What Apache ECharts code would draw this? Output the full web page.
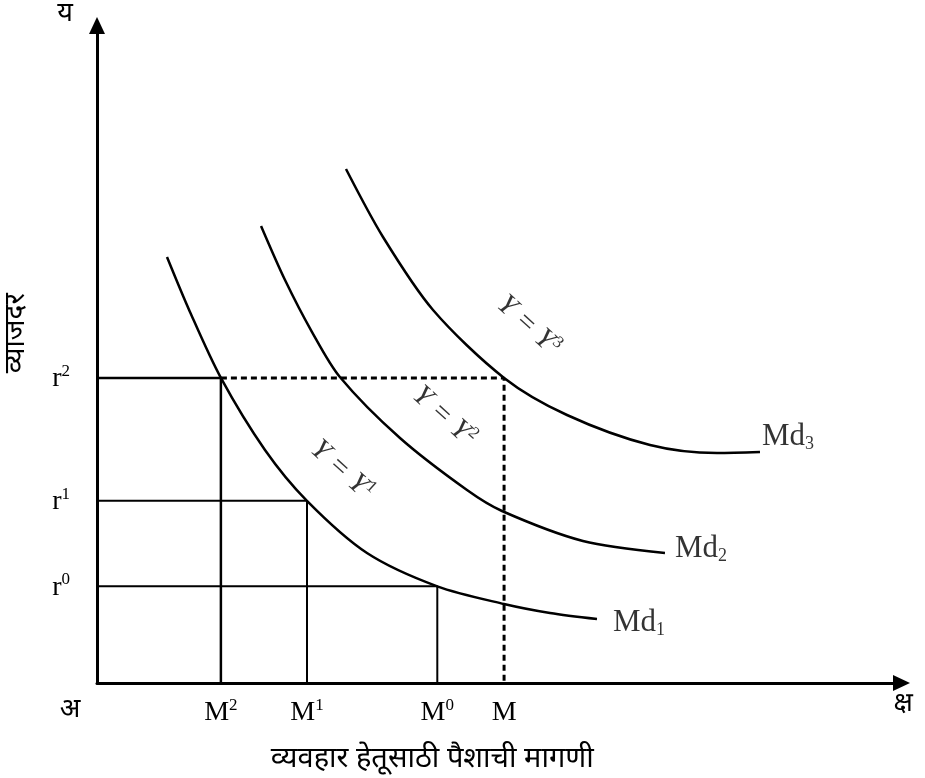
<!DOCTYPE html>
<html>
<head>
<meta charset="utf-8">
<script src="https://cdn.jsdelivr.net/npm/echarts@6/dist/echarts.min.js"></script>
<style>html,body{margin:0;padding:0;background:#fff}#c{width:925px;height:778px}</style>
</head>
<body>
<div id="c"></div>
<script>
// ---- data (axis units 0..100) ----
const xTickValues = [15.4, 26.1, 42.3, 50.6];
const xTickBase = ['M', 'M', 'M', 'M'];
const xTickSup = ['2', '1', '0', ''];
const yTickValues = [14.7, 27.7, 46.4];
const yTickBase = ['r', 'r', 'r'];
const yTickSup = ['0', '1', '2'];

const md1 = [[8.70,64.79],[11.56,56.43],[15.4,46.4],[20.88,35.44],[26.1,27.7],[33.56,19.77],[42.3,14.7],[50.59,12.02],[56.31,10.65],[62.15,9.73]];
const md2 = [[20.39,69.51],[23.37,61.29],[26.73,53.38],[30.19,46.54],[37.66,37.26],[45.99,29.35],[50.34,26.16],[60.40,21.60],[70.60,19.77]];
const md3 = [[30.95,78.17],[35.55,67.83],[41.77,56.73],[50.6,46.4],[58.42,40.76],[68.74,36.20],[77.07,34.98],[82.41,35.13]];
const curveNames = ['Md', 'Md', 'Md'];
const curveSubs = ['1', '2', '3'];

const incomeLabelAnchor = [[30.5,32.4],[43.2,40.6],[53.7,54.4]];
const incomeLabelSup = ['1', '2', '3'];

const xAxisTitle = 'व्यवहार हेतूसाठी पैशाची मागणी';
const yAxisTitle = 'व्याजदर';
const xEndName = 'क्ष';
const yEndName = 'य';
const originName = 'अ';

// ---- styles ----
const SERIF = "'Liberation Serif','Times New Roman',serif";
const DEVA = "'Noto Sans Devanagari','Lohit Devanagari','Noto Sans',sans-serif";
const mdLabelDistance = [16, 10, 2];
const mdLabelOffsetY = [4, -4, -15];

function near(a, b) { return Math.abs(a - b) < 1e-6; }

const tickRich = {
  b: {fontFamily: SERIF, fontSize: 28, color: '#000', lineHeight: 30, verticalAlign: 'bottom'},
  p: {fontFamily: SERIF, fontSize: 17, color: '#000', lineHeight: 17, verticalAlign: 'top'},
  o: {fontFamily: DEVA, fontSize: 27, color: '#000', padding: [1, 54, 0, 0]}
};

const curves = [md1, md2, md3];
const series = [];

// guide lines (solid corners)
for (let i = 0; i < 3; i++) {
  const x = xTickValues[i], y = yTickValues[2 - i];
  series.push({
    type: 'line', silent: true, symbol: 'none', animation: false,
    data: [[0, y], [x, y], [x, 0]],
    lineStyle: {color: '#000', width: i === 0 ? 2.5 : 2}
  });
}
// dashed guide
series.push({
  type: 'line', silent: true, symbol: 'none',
  data: [[xTickValues[0], yTickValues[2]], [xTickValues[3], yTickValues[2]], [xTickValues[3], 0]],
  lineStyle: {color: '#000', width: 3, type: [6, 4]}
});
// demand curves
curves.forEach(function (c, i) {
  series.push({
    type: 'line', name: curveNames[i] + curveSubs[i], data: c, smooth: 0.3,
    symbol: 'none', silent: true,
    lineStyle: {color: '#000', width: 2.5}
  });
});
// Md labels
series.push({
  type: 'scatter', symbolSize: 0, silent: true,
  data: curves.map(function (c, i) {
    return {
      value: c[c.length - 1],
      label: {formatter: '{m|' + curveNames[i] + '}{s|' + curveSubs[i] + '}', distance: mdLabelDistance[i], offset: [0, mdLabelOffsetY[i]]}
    };
  }),
  label: {
    show: true, position: 'right',
    rich: {
      m: {fontFamily: SERIF, fontSize: 31, color: '#000', lineHeight: 32, verticalAlign: 'top'},
      s: {fontFamily: SERIF, fontSize: 18, color: '#000', lineHeight: 18, padding: [13, 0, 0, 0], verticalAlign: 'bottom'}
    }
  }
});
// Y = Y^n labels
series.push({
  type: 'scatter', symbolSize: 0, silent: true,
  data: incomeLabelAnchor.map(function (p, i) {
    return {value: p, label: {formatter: '{i|Y = Y}{s|' + incomeLabelSup[i] + '}'}};
  }),
  label: {
    show: true, position: 'inside', rotate: -42,
    rich: {
      i: {fontFamily: SERIF, fontStyle: 'italic', fontSize: 29, color: '#000', lineHeight: 30, verticalAlign: 'bottom'},
      s: {fontFamily: SERIF, fontSize: 17, color: '#000', lineHeight: 17, verticalAlign: 'top'}
    }
  }
});

const arrowLine = {show: true, onZero: false, symbol: ['none', 'triangle'], symbolSize: [16, 17], lineStyle: {color: '#000', width: 3}};

const option = {
  animation: false,
  backgroundColor: '#fff',
  grid: {left: 97, right: 23.5, top: 25.5, bottom: 95, containLabel: false, outerBoundsMode: 'none'},
  xAxis: [{
    type: 'value', min: 0, max: 100,
    name: xEndName, nameLocation: 'end', nameGap: -8,
    nameTextStyle: {fontFamily: DEVA, fontSize: 27, color: '#000', verticalAlign: 'top', padding: [9, 0, 0, 0]},
    axisLine: arrowLine,
    axisTick: {show: false}, splitLine: {show: false},
    axisLabel: {
      show: true, margin: 14, customValues: [0].concat(xTickValues), rich: tickRich,
      formatter: function (v) {
        if (near(v, 0)) return '{o|' + originName + '}';
        const i = xTickValues.findIndex(function (t) { return near(t, v); });
        if (i < 0) return '';
        return '{b|' + xTickBase[i] + '}' + (xTickSup[i] ? '{p|' + xTickSup[i] + '}' : '');
      }
    }
  }, {
    type: 'value', min: 0, max: 100, position: 'bottom',
    name: xAxisTitle, nameLocation: 'middle', nameGap: 64,
    nameTextStyle: {fontFamily: DEVA, fontSize: 29, color: '#000', padding: [0, 134, 0, 0]},
    axisLine: {show: false}, axisTick: {show: false}, axisLabel: {show: false}, splitLine: {show: false}
  }],
  yAxis: [{
    type: 'value', min: 0, max: 100,
    name: yEndName, nameLocation: 'end', nameGap: -4,
    nameTextStyle: {fontFamily: DEVA, fontSize: 27, color: '#000', padding: [0, 64, 0, 0]},
    axisLine: arrowLine,
    axisTick: {show: false}, splitLine: {show: false},
    axisLabel: {
      show: true, margin: 27, customValues: yTickValues, rich: tickRich,
      formatter: function (v) {
        const i = yTickValues.findIndex(function (t) { return near(t, v); });
        if (i < 0) return '';
        return '{b|' + yTickBase[i] + '}{p|' + yTickSup[i] + '}';
      }
    }
  }, {
    type: 'value', min: 0, max: 100, position: 'left',
    name: yAxisTitle, nameLocation: 'middle', nameGap: 64,
    nameTextStyle: {fontFamily: DEVA, fontSize: 28, color: '#000', padding: [0, 0, 0, 42]},
    axisLine: {show: false}, axisTick: {show: false}, axisLabel: {show: false}, splitLine: {show: false}
  }],
  series: series
};

const chart = echarts.init(document.getElementById('c'), null, {renderer: 'canvas'});
chart.setOption(option);
</script>
</body>
</html>
